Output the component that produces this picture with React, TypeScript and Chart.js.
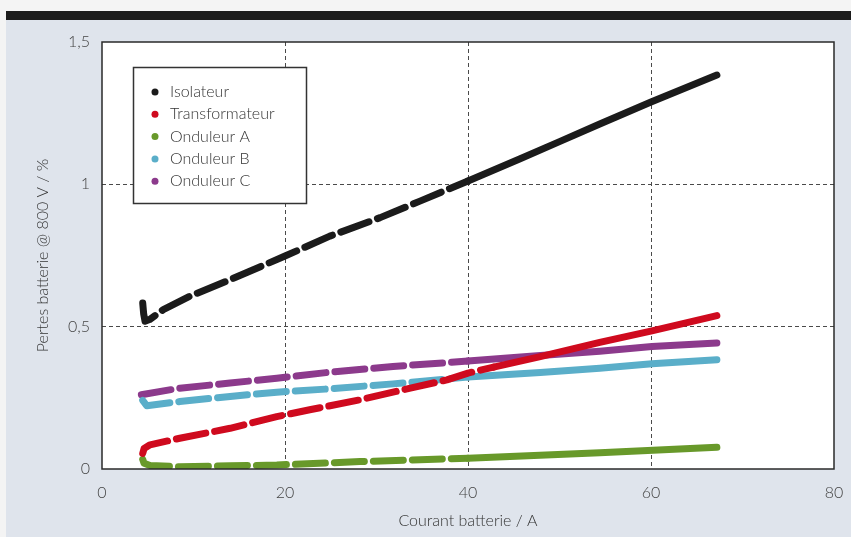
import React, { useEffect, useRef } from 'react';
import { Chart, registerables } from 'chart.js';
Chart.register(...registerables);

// ---- Data ----
const seriesLabels = ['Isolateur', 'Transformateur', 'Onduleur A', 'Onduleur B', 'Onduleur C'];
const seriesColors = ['#1b1b1b', '#cf0a1e', '#68992a', '#5aaec9', '#8c3a8c'];

const isolateurX = [4.45, 4.55, 4.7, 5.2, 6.7, 9.6, 14, 20, 24.9, 30.4, 34.75, 40, 45.7, 50, 54.4, 60, 67.2];
const isolateurY = [0.583, 0.546, 0.519, 0.525, 0.56, 0.607, 0.665, 0.748, 0.818, 0.883, 0.941, 1.012, 1.09, 1.15, 1.212, 1.289, 1.384];

const transfoX = [4.45, 4.6, 5.25, 8.5, 14, 19.1, 22.7, 28.2, 33.7, 37.7, 40, 42.8, 47.9, 54.4, 60.1, 67.2];
const transfoY = [0.055, 0.072, 0.085, 0.108, 0.143, 0.184, 0.208, 0.243, 0.284, 0.313, 0.337, 0.358, 0.395, 0.445, 0.485, 0.539];

const ondAX = [4.45, 4.6, 5.25, 8.5, 14, 19.1, 28.2, 40, 54.4, 67.2];
const ondAY = [0.034, 0.02, 0.012, 0.008, 0.011, 0.014, 0.026, 0.038, 0.057, 0.076];

const ondBX = [4.45, 4.9, 8.5, 14, 19.1, 24.6, 31.8, 40, 47.9, 54.4, 60.1, 67.2];
const ondBY = [0.241, 0.222, 0.237, 0.255, 0.27, 0.281, 0.299, 0.323, 0.339, 0.354, 0.37, 0.384];

const ondCX = [4.3, 8.5, 14, 19.1, 24.6, 31.8, 40, 47.9, 54.4, 60.1, 67.2];
const ondCY = [0.261, 0.284, 0.302, 0.319, 0.339, 0.36, 0.379, 0.399, 0.414, 0.43, 0.443];

const xTickValues = [0, 20, 40, 60, 80];
const yTickValues = [0, 0.5, 1, 1.5];
const xTitle = 'Courant batterie / A';
const yTitle = 'Pertes batterie @ 800 V / %';

const FONT = "Lato, 'Open Sans', sans-serif";

function zip(xs: number[], ys: number[]) {
  return xs.map((x, i) => ({ x, y: ys[i] }));
}

const bgPlugin = {
  id: 'bgPlugin',
  beforeDraw(chart: any) {
    const { ctx, width, height, chartArea } = chart;
    ctx.save();
    ctx.fillStyle = '#f4f4f4';
    ctx.fillRect(0, 0, width, height);
    ctx.fillStyle = '#dfe4ec';
    ctx.fillRect(6, 20, width - 6, height - 20);
    ctx.fillStyle = '#1c1c1c';
    ctx.fillRect(6, 11, width - 6, 9);
    ctx.fillStyle = '#ffffff';
    ctx.fillRect(chartArea.left, chartArea.top, chartArea.right - chartArea.left, chartArea.bottom - chartArea.top);
    ctx.restore();
  },
  afterDraw(chart: any) {
    const { ctx, chartArea } = chart;
    const { left, top, right, bottom } = chartArea;
    ctx.save();
    ctx.strokeStyle = '#2a2a2a';
    ctx.lineWidth = 1.5;
    ctx.strokeRect(left, top, right - left, bottom - top);

    // legend box
    const bx = left + 31.5;
    const by = top + 25.5;
    const bw = 173;
    const bh = 136;
    ctx.fillStyle = '#ffffff';
    ctx.fillRect(bx, by, bw, bh);
    ctx.lineWidth = 1.5;
    ctx.strokeStyle = '#333333';
    ctx.strokeRect(bx, by, bw, bh);
    ctx.font = `300 16px ${FONT}`;
    ctx.textBaseline = 'middle';
    ctx.textAlign = 'left';
    chart.data.datasets.forEach((ds: any, i: number) => {
      const cy = by + 24.5 + i * 22.3;
      ctx.beginPath();
      ctx.fillStyle = ds.borderColor;
      ctx.arc(bx + 21.5, cy, 3.5, 0, Math.PI * 2);
      ctx.fill();
      ctx.fillStyle = '#333333';
      ctx.fillText(ds.label, bx + 36.5, cy);
    });
    ctx.restore();
  },
};

export default function App() {
  const ref = useRef<HTMLCanvasElement | null>(null);

  useEffect(() => {
    if (!ref.current) return;
    const xsAll = [isolateurX, transfoX, ondAX, ondBX, ondCX];
    const ysAll = [isolateurY, transfoY, ondAY, ondBY, ondCY];
    const datasets = seriesLabels.map((label, i) => ({
      label,
      data: zip(xsAll[i], ysAll[i]),
      borderColor: seriesColors[i],
      backgroundColor: seriesColors[i],
      borderWidth: 7,
      borderCapStyle: 'round' as const,
      borderJoinStyle: 'round' as const,
      pointRadius: 0,
      showLine: true,
      tension: 0,
      segment: {
        borderDash: (ctx: any) => (ctx.p1.parsed.x <= 44 ? [30, 9] : undefined),
      },
    }));

    const gridColor = (lo: number, hi: number) => (ctx: any) => {
      const v = ctx.tick && ctx.tick.value;
      return v > lo && v < hi ? '#4a4a4a' : 'rgba(0,0,0,0)';
    };

    const chart = new Chart(ref.current, {
      type: 'scatter',
      data: { datasets },
      plugins: [bgPlugin],
      options: {
        animation: false,
        responsive: false,
        layout: { padding: { top: 42, right: 17, left: 0, bottom: 0 } },
        plugins: { legend: { display: false }, tooltip: { enabled: false } },
        scales: {
          x: {
            type: 'linear',
            min: 0,
            max: 80,
            afterBuildTicks: (scale: any) => {
              scale.ticks = xTickValues.map((v) => ({ value: v }));
            },
            afterFit: (scale: any) => {
              scale.height = 68;
              scale.paddingLeft = 0;
              scale.paddingRight = 0;
            },
            ticks: {
              padding: 14,
              color: '#444444',
              font: { family: FONT, size: 16, weight: '300' },
              callback: (v: any) => String(v),
            },
            grid: { color: gridColor(0, 80), drawTicks: false, lineWidth: 1 },
            border: { display: false, dash: [4, 3] },
            title: {
              display: true,
              text: xTitle,
              color: '#333333',
              font: { family: FONT, size: 16, weight: '300' },
              padding: { top: 0, bottom: 7 },
            },
          },
          y: {
            type: 'linear',
            min: 0,
            max: 1.5,
            afterBuildTicks: (scale: any) => {
              scale.ticks = yTickValues.map((v) => ({ value: v }));
            },
            afterFit: (scale: any) => {
              scale.width = 102;
              scale.paddingTop = 0;
              scale.paddingBottom = 0;
            },
            ticks: {
              padding: 12,
              color: '#444444',
              font: { family: FONT, size: 16, weight: '300' },
              callback: (v: any) => String(v).replace('.', ','),
            },
            grid: { color: gridColor(0, 1.5), drawTicks: false, lineWidth: 1 },
            border: { display: false, dash: [4, 3] },
            title: {
              display: true,
              text: yTitle,
              color: '#333333',
              font: { family: FONT, size: 16, weight: '300' },
              padding: { top: 33, bottom: 0 },
            },
          },
        },
      } as any,
    });
    return () => chart.destroy();
  }, []);

  return (
    <div style={{ position: 'absolute', left: 0, top: 0, width: 851, height: 537 }}>
      <canvas ref={ref} width={851} height={537} style={{ width: 851, height: 537, display: 'block' }} />
    </div>
  );
}
